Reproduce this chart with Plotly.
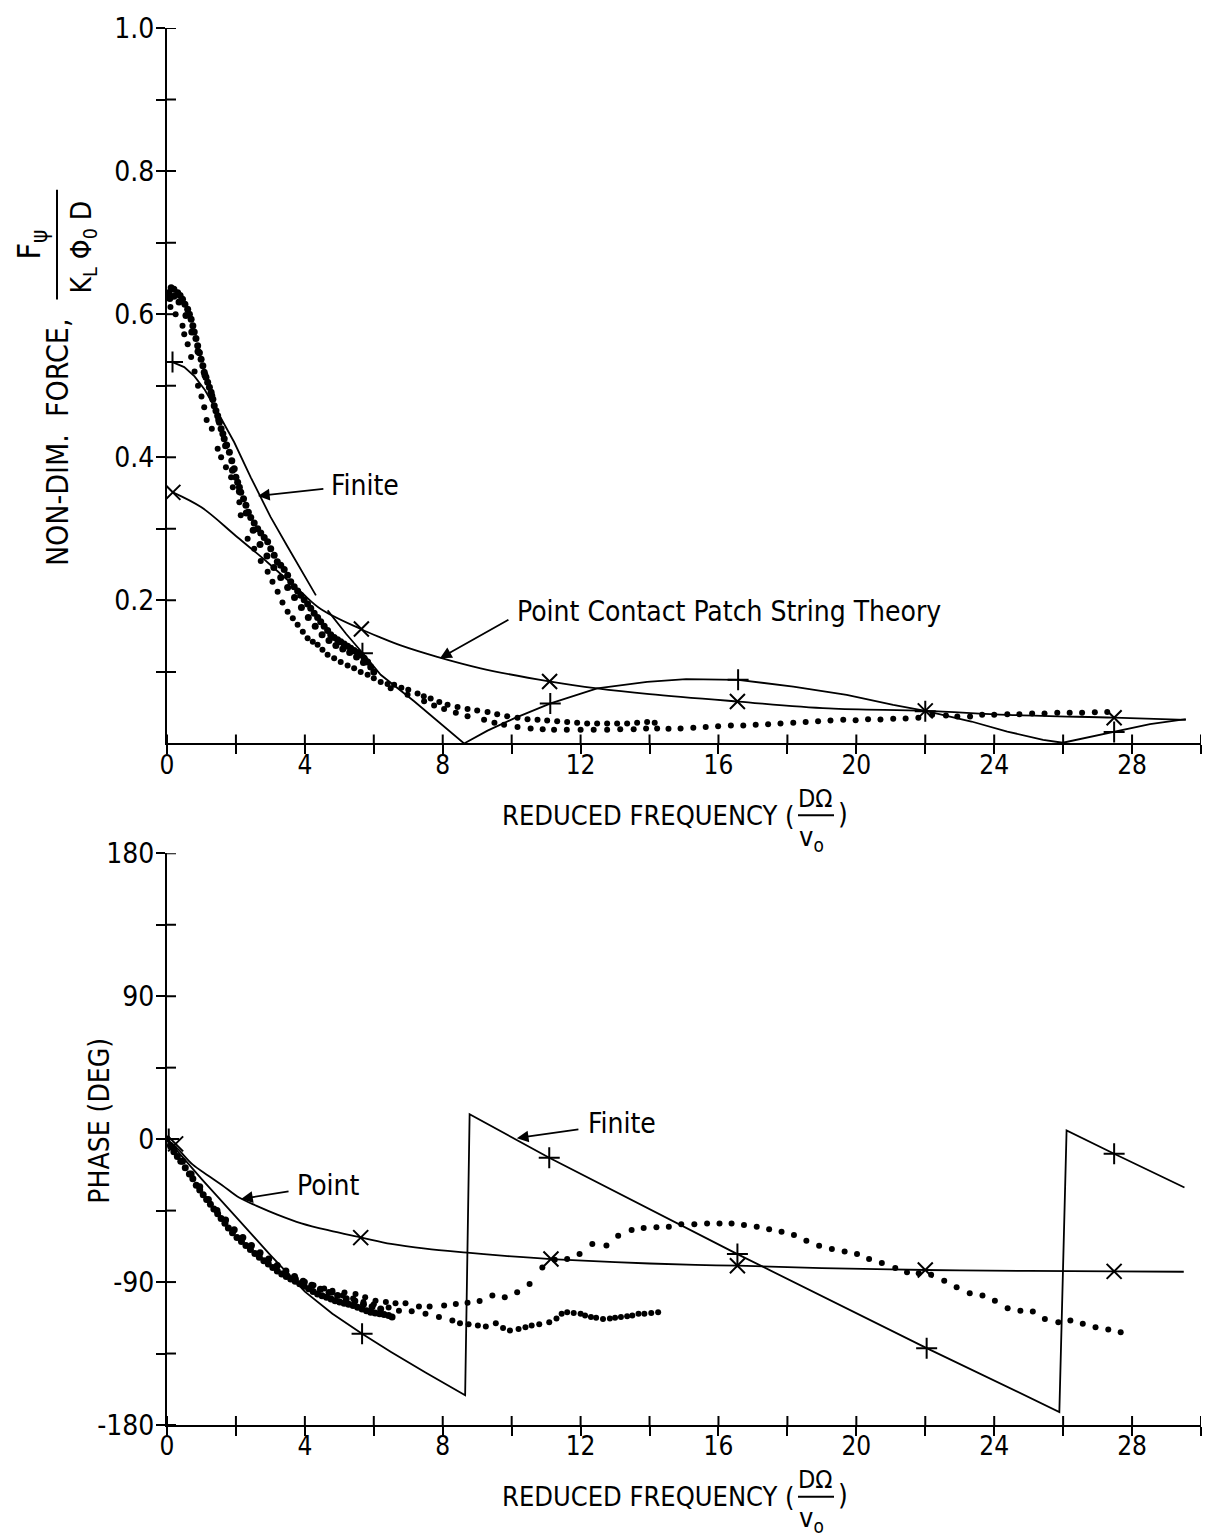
import plotly.graph_objects as go

# ---------------- DATA ----------------
# Top: non-dimensional force magnitude
fin_mag_x = [0.16, 0.5, 0.8, 1.1, 1.47, 1.95, 2.43, 3.0, 3.5, 4.0, 4.32, None, 4.66, 5.2, 5.72, 6.2, 7.17, 8.0, 8.62,
             9.3, 10.07, 11.13, 12.48, 13.93, 15.06, 16.57, 18.17, 19.72, 21.07, 22.0, 23.34, 24.38,
             25.42, 25.99, 27.48, 28.52, 29.56]
fin_mag_y = [0.533, 0.526, 0.513, 0.494, 0.463, 0.421, 0.372, 0.317, 0.275, 0.233, 0.207, None, 0.186, 0.153, 0.124,
             0.096, 0.059, 0.026, 0.0,
             0.018, 0.035, 0.056, 0.077, 0.086, 0.090, 0.089, 0.0795, 0.068, 0.054, 0.0456, 0.0307, 0.0167,
             0.005, 0.001, 0.016, 0.027, 0.034]
pt_mag_x = [0.17, 1.0, 2.0, 2.92, 3.88, 4.46, 5.62, 6.2, 6.78, 7.84, 9.1, 11.13, 12.48, 14.0, 16.57,
            19.2, 22.0, 24.4, 27.48, 29.56]
pt_mag_y = [0.351, 0.33, 0.29, 0.253, 0.212, 0.188, 0.16, 0.148, 0.137, 0.121, 0.105, 0.0865, 0.077, 0.069,
            0.0586, 0.049, 0.0456, 0.040, 0.036, 0.033]
fin_mag_mk_x = [0.16, 5.67, 11.12, 16.57, 22.0, 27.48]
fin_mag_mk_y = [0.533, 0.126, 0.056, 0.089, 0.045, 0.016]
pt_mag_mk_x = [0.17, 5.64, 11.1, 16.55, 22.0, 27.48]
pt_mag_mk_y = [0.351, 0.160, 0.0865, 0.0586, 0.0456, 0.036]

expA_mag_x = [0.05, 0.12, 0.2, 0.31, 0.38, 0.45, 0.52, 0.6, 0.65, 0.7, 0.75, 0.79, 0.84, 0.89, 0.94, 0.99,
              1.04, 1.08, 1.13, 1.18, 1.23, 1.28, 1.33, 1.37, 1.42, 1.47, 1.52, 1.57, 1.62, 1.66, 1.73,
              1.81, 1.88, 1.95, 2.0, 2.05, 2.1, 2.14, 2.22, 2.29, 2.36, 2.43, 2.53, 2.63, 2.72, 2.82, 2.92,
              3.01, 3.11, 3.2, 3.3, 3.4, 3.5, 3.59, 3.69, 3.79, 3.88, 3.98, 4.08, 4.17, 4.27, 4.37, 4.46,
              4.56, 4.66, 4.75, 4.85, 4.95, 5.04, 5.14, 5.24, 5.33, 5.43, 5.53, 5.62, 5.72, 5.82, 5.91, 6.0]
expA_mag_y = [0.630, 0.637, 0.635, 0.630, 0.626, 0.621, 0.614, 0.607, 0.600, 0.593, 0.584, 0.575, 0.566,
              0.556, 0.546, 0.537, 0.528, 0.519, 0.512, 0.505, 0.498, 0.491, 0.481, 0.472, 0.465, 0.458,
              0.449, 0.440, 0.433, 0.426, 0.417, 0.407, 0.395, 0.384, 0.372, 0.365, 0.358, 0.351, 0.342,
              0.333, 0.323, 0.316, 0.308, 0.300, 0.294, 0.288, 0.282, 0.272, 0.263, 0.254, 0.249, 0.243,
              0.235, 0.226, 0.219, 0.213, 0.207, 0.201, 0.195, 0.189, 0.182, 0.176, 0.170, 0.164, 0.158,
              0.152, 0.148, 0.145, 0.142, 0.139, 0.136, 0.133, 0.130, 0.127, 0.124, 0.119, 0.114, 0.107, 0.100]
expD_mag_x = [0.08, 0.2, 0.35, 0.55, 0.72, 0.9, 1.1, 1.3, 1.5, 1.7, 1.9, 2.1, 2.3, 2.5, 2.7, 2.9, 3.1,
              3.3, 3.5, 3.7, 3.9, 4.1, 4.3, 4.5, 4.7, 4.9, 5.1, 5.3, 5.5, 5.7]
expD_mag_y = [0.622, 0.625, 0.617, 0.598, 0.575, 0.548, 0.515, 0.486, 0.452, 0.416, 0.382, 0.352, 0.322,
              0.298, 0.278, 0.262, 0.246, 0.232, 0.218, 0.204, 0.19, 0.176, 0.164, 0.152, 0.144, 0.137,
              0.132, 0.127, 0.121, 0.113]
expB_mag_x = [0.1, 0.25, 0.45, 0.5, 0.6, 0.7, 0.8, 0.9, 1.0, 1.08, 1.15, 1.3, 1.47, 1.57, 1.71, 1.86, 1.91,
              2.1, 2.14, 2.34, 2.53, 2.72, 2.92, 3.06, 3.21, 3.35, 3.5, 3.65, 3.79, 3.94, 4.08, 4.23, 4.37,
              4.51, 4.66, 4.85, 5.04, 5.24, 5.43, 5.62, 5.82, 6.0, 6.2, 6.4, 6.59, 6.8, 7.0, 7.27, 7.45,
              7.65, 7.9, 8.14, 8.43, 8.72, 9.0, 9.3, 9.58, 9.87, 10.17, 10.46, 10.75, 11.03, 11.32, 11.61,
              11.9, 12.19, 12.48, 12.77, 13.06, 13.35, 13.64, 13.93, 14.15]
expB_mag_y = [0.61, 0.60, 0.584, 0.572, 0.558, 0.54, 0.52, 0.50, 0.485, 0.47, 0.452, 0.44, 0.412, 0.40,
              0.386, 0.372, 0.358, 0.337, 0.319, 0.286, 0.272, 0.255, 0.24, 0.226, 0.212, 0.197, 0.184,
              0.175, 0.166, 0.156, 0.147, 0.142, 0.138, 0.131, 0.124, 0.119, 0.114, 0.109, 0.105, 0.100,
              0.096, 0.091, 0.086, 0.083, 0.082, 0.078, 0.075, 0.070, 0.066, 0.063, 0.058, 0.054, 0.051,
              0.048, 0.046, 0.044, 0.041, 0.038, 0.036, 0.034, 0.033, 0.032, 0.031, 0.030, 0.029, 0.028,
              0.028, 0.028, 0.028, 0.028, 0.029, 0.030, 0.029]
expC_mag_x = [6.49, 6.98, 7.46, 7.75, 8.04, 8.38, 8.72, 9.2, 9.5, 9.78, 10.17, 10.55, 10.9, 11.23, 11.6,
              12.0, 12.38, 12.77, 13.15, 13.54, 13.9, 14.22, 14.55, 14.9, 15.27, 15.63, 15.99, 16.36,
              16.72, 17.08, 17.44, 17.8, 18.17, 18.53, 18.89, 19.25, 19.62, 19.98, 20.34, 20.7, 21.07,
              21.43, 21.8, 22.2, 22.6, 22.93, 23.3, 23.65, 24.0, 24.38, 24.73, 25.1, 25.46, 25.83, 26.19,
              26.55, 26.92, 27.28]
expC_mag_y = [0.077, 0.068, 0.059, 0.053, 0.048, 0.043, 0.038, 0.033, 0.029, 0.026, 0.023, 0.021, 0.020,
              0.019, 0.019, 0.019, 0.019, 0.019, 0.020, 0.020, 0.021, 0.021, 0.0205, 0.021, 0.022, 0.023,
              0.024, 0.025, 0.025, 0.026, 0.027, 0.028, 0.029, 0.030, 0.031, 0.032, 0.033, 0.0325, 0.034,
              0.0335, 0.0345, 0.035, 0.036, 0.040, 0.039, 0.0377, 0.0377, 0.040, 0.040, 0.041, 0.041,
              0.042, 0.042, 0.043, 0.043, 0.043, 0.0437, 0.044]

# Bottom: phase (deg)
fin_ph_x = [0.0, 1.0, 2.0, 3.0, 4.0, 4.8, 5.66, 6.5, 7.5, 8.65, 8.78, 11.09, 16.55, 22.04, 25.89, 26.1,
            27.48, 29.52]
fin_ph_y = [0, -25, -49, -73, -96, -110, -122.6, -134, -147, -161.3, 15.7, -11.7, -72.4, -131.6, -171.8,
            5.4, -9.2, -30.5]
pt_ph_x = [0.0, 0.35, 0.74, 1.2, 1.6, 2.09, 2.6, 3.2, 3.9, 4.7, 5.65, 6.5, 7.5, 8.71, 9.8, 11.14, 13.0,
           15.33, 16.55, 19.0, 22.0, 25.0, 27.48, 29.5]
pt_ph_y = [0, -7, -15.9, -23, -29, -36.8, -42, -47.5, -53, -57.5, -62, -66, -69, -71.5, -73.5, -75.5,
           -77.5, -79.2, -79.7, -81.2, -82.4, -83, -83.3, -83.5]
fin_ph_mk_x = [0.05, 5.66, 11.09, 16.55, 22.04, 27.48]
fin_ph_mk_y = [0.0, -122.6, -11.7, -72.4, -131.6, -9.2]
pt_ph_mk_x = [0.25, 5.62, 11.14, 16.55, 22.0, 27.48]
pt_ph_mk_y = [-3.0, -62.0, -75.5, -79.7, -82.4, -83.3]

expA_ph_x = [0.0, 0.1, 0.2, 0.3, 0.4, 0.53, 0.65, 0.75, 0.85, 0.95, 1.05, 1.15, 1.26, 1.36, 1.47, 1.57,
             1.68, 1.78, 1.9, 2.03, 2.16, 2.29, 2.42, 2.55, 2.68, 2.81, 2.94, 3.07, 3.2, 3.33, 3.46, 3.59,
             3.72, 3.85, 3.98, 4.11, 4.24, 4.37, 4.5, 4.63, 4.76, 4.88, 5.01, 5.14, 5.27, 5.4, 5.53, 5.66,
             5.79, 5.91, 6.04, 6.17, 6.3, 6.43, 6.53]
expA_ph_y = [0, -4, -8, -11, -14, -18, -22, -25, -29, -32, -35, -38, -41, -44, -47, -50, -53, -56, -59,
             -62, -64.5, -67, -69.5, -72, -74.4, -76.6, -78.7, -80.8, -83, -85, -86.5, -88, -89.5, -91,
             -92.6, -94.2, -95.9, -97.5, -98.6, -99.6, -100.7, -101.7, -102.5, -103.3, -104, -104.8,
             -105.8, -106.9, -108, -109, -109.5, -110, -110.5, -111, -112]
expD_ph_x = [0.2, 0.45, 0.7, 0.95, 1.2, 1.45, 1.7, 1.95, 2.2, 2.45, 2.7, 2.95, 3.2, 3.45, 3.7, 3.95, 4.2,
             4.45, 4.7, 4.95, 5.2, 5.45, 5.7, 5.95, 6.2]
expD_ph_y = [-6, -14, -22, -30, -38, -45, -51, -57, -62, -67, -71.5, -75.5, -79.5, -83, -86.5, -89.5, -92,
             -94.5, -96.5, -98.5, -100.5, -102, -104, -105.5, -107]
expB_ph_x = [3.5, 3.74, 4.0, 4.25, 4.56, 4.8, 5.1, 5.4, 5.7, 6.0, 6.43, 6.73, 7.1, 7.5, 7.89, 8.28, 8.5,
             8.75, 9.02, 9.25, 9.54, 9.75, 9.95, 10.2, 10.4, 10.58, 10.8, 11.09, 11.3, 11.45, 11.61, 11.8,
             12.0, 12.13, 12.3, 12.45, 12.65, 12.85, 13.0, 13.17, 13.35, 13.5, 13.68, 13.85, 14.05, 14.25]
expB_ph_y = [-86, -88, -90, -92, -94, -96.5, -98.5, -100.4, -102.5, -104, -106, -108, -108.4, -110, -112,
             -114.2, -116, -116.5, -117.4, -118, -116, -119, -120.5, -119.5, -118.5, -117.4, -116.5,
             -115.3, -113, -110, -109, -109.5, -110, -111, -112, -112.5, -113.2, -113, -112.5, -112,
             -111.5, -111, -110, -110, -109.5, -109]
expC_ph_x = [4.8, 5.15, 5.47, 5.75, 6.05, 6.35, 6.63, 6.92, 7.31, 7.62, 8.04, 8.38, 8.72, 9.07, 9.44, 9.8,
             10.16, 10.52, 10.89, 11.25, 11.61, 11.97, 12.34, 12.75, 13.09, 13.48, 13.83, 14.2, 14.56,
             14.92, 15.3, 15.67, 16.03, 16.38, 16.74, 17.11, 17.47, 17.83, 18.19, 18.55, 18.92, 19.29,
             19.66, 20.02, 20.37, 20.74, 21.13, 21.47, 21.81, 22.17, 22.55, 22.91, 23.29, 23.66, 24.02,
             24.39, 24.76, 25.12, 25.47, 25.86, 26.21, 26.57, 26.94, 27.31, 27.67]
expC_ph_y = [-95.4, -96.5, -97.5, -99.5, -101.7, -102.5, -103.4, -103.4, -105.4, -105.4, -104.8, -103.8,
             -103, -102, -98.5, -99.5, -96.4, -91.2, -80.8, -76, -75.5, -72.4, -66.1, -67, -60.9, -57.3,
             -56, -55.5, -55.2, -53.6, -53.6, -53.1, -53.1, -53.1, -54, -55.2, -56.7, -58.4, -60.3, -64,
             -67.2, -69.2, -70.7, -72.4, -75.5, -78, -81.2, -83.9, -84.5, -85.4, -89.1, -93.3, -97.1,
             -98.5, -101.7, -106.5, -108, -108.6, -113.2, -115.3, -114.2, -116.3, -118.4, -119.9, -121.6]

x_major = [0, 4, 8, 12, 16, 20, 24, 28]
x_major_text = ["0", "4", "8", "12", "16", "20", "24", "28"]
x_minor = [2, 6, 10, 14, 18, 22, 26, 30]
mag_major = [0.2, 0.4, 0.6, 0.8, 1.0]
mag_major_text = ["0.2", "0.4", "0.6", "0.8", "1.0"]
mag_minor = [0.1, 0.3, 0.5, 0.7, 0.9]
ph_major = [-180, -90, 0, 90, 180]
ph_major_text = ["-180", "-90", "0", "90", "180"]
ph_minor = [-135, -45, 45, 135]

# ---------------- LAYOUT CONSTANTS ----------------
W, H = 1213, 1540
L, R, T, B = 167, 12, 25, 115
PW, PH = W - L - R, H - T - B
FONT = "Liberation Sans Narrow, Arial Narrow, DejaVu Sans Condensed, sans-serif"
TOP_DOM = [(H - B - 742) / PH, 1.0]
BOT_DOM = [0.0, (H - B - 852) / PH]
TICK = 9


def pxx(xp):
    return (xp - L) / PW


def pxy(yp):
    return (H - B - yp) / PH


fig = go.Figure()

line_style = dict(color="black", width=1.8)


def add_line(x, y, xa, ya, shape="linear"):
    fig.add_trace(go.Scatter(x=x, y=y, mode="lines", line=dict(line_style, shape=shape), xaxis=xa, yaxis=ya,
                             showlegend=False, hoverinfo="skip", connectgaps=False))


def add_marks(x, y, xa, ya, sym):
    fig.add_trace(go.Scatter(x=x, y=y, mode="markers", xaxis=xa, yaxis=ya, showlegend=False,
                             hoverinfo="skip",
                             marker=dict(symbol=sym, size=15, color="black",
                                         line=dict(color="black", width=2))))


def add_dots(x, y, xa, ya, size):
    fig.add_trace(go.Scatter(x=x, y=y, mode="markers", xaxis=xa, yaxis=ya, showlegend=False,
                             hoverinfo="skip", marker=dict(size=size, color="black")))


# top
add_dots(expA_mag_x, expA_mag_y, "x", "y", 7)
add_dots(expD_mag_x, expD_mag_y, "x", "y", 7)
add_dots(expB_mag_x, expB_mag_y, "x", "y", 6)
add_dots(expC_mag_x, expC_mag_y, "x", "y", 6)
add_line(fin_mag_x, fin_mag_y, "x", "y")
add_line(pt_mag_x, pt_mag_y, "x", "y", "spline")
add_marks(fin_mag_mk_x, fin_mag_mk_y, "x", "y", "cross-thin")
add_marks(pt_mag_mk_x, pt_mag_mk_y, "x", "y", "x-thin")
# bottom
add_dots(expA_ph_x, expA_ph_y, "x2", "y2", 7)
add_dots(expD_ph_x, expD_ph_y, "x2", "y2", 7)
add_dots(expB_ph_x, expB_ph_y, "x2", "y2", 6)
add_dots(expC_ph_x, expC_ph_y, "x2", "y2", 6)
add_line(fin_ph_x, fin_ph_y, "x2", "y2")
add_line(pt_ph_x, pt_ph_y, "x2", "y2", "spline")
add_marks(fin_ph_mk_x, fin_ph_mk_y, "x2", "y2", "cross-thin")
add_marks(pt_ph_mk_x, pt_ph_mk_y, "x2", "y2", "x-thin")

tick_common = dict(ticklen=TICK, tickwidth=2, tickcolor="black", showgrid=False, zeroline=False,
                   showline=True, linewidth=2, linecolor="black", ticks="outside")


def xaxis_def(anchor):
    return dict(domain=[0, 1], anchor=anchor, range=[0, 30], tickmode="array", tickvals=x_major,
                ticktext=x_major_text, ticklabelstandoff=-12,
                tickfont=dict(family=FONT, size=26, color="black"),
                minor=dict(tickmode="array", tickvals=x_minor, ticks="outside", ticklen=TICK, tickwidth=2,
                           tickcolor="black", showgrid=False),
                **tick_common)


def yaxis_def(anchor, dom, rng, vals, text, minor_vals):
    return dict(anchor=anchor, domain=dom, range=rng, tickmode="array", tickvals=vals, ticktext=text,
                ticklabelstandoff=-4,
                tickfont=dict(family=FONT, size=28, color="black"),
                minor=dict(tickmode="array", tickvals=minor_vals, ticks="outside", ticklen=TICK, tickwidth=2,
                           tickcolor="black", showgrid=False),
                **tick_common)


fig.update_layout(
    width=W, height=H,
    margin=dict(l=L, r=R, t=T, b=B),
    paper_bgcolor="white", plot_bgcolor="rgba(0,0,0,0)",
    showlegend=False,
    font=dict(family=FONT, color="black"),
    xaxis=xaxis_def("y"),
    yaxis=yaxis_def("x", TOP_DOM, [0, 1], mag_major, mag_major_text, mag_minor),
    xaxis2=xaxis_def("y2"),
    yaxis2=yaxis_def("x2", BOT_DOM, [-180, 180], ph_major, ph_major_text, ph_minor),
)

ann = []
shapes = []

# inside halves of the crossing ticks, placed by the axes' own scales
for xr, yr, y_base in [("x", "y", 0), ("x2", "y2", -180)]:
    for t in x_major + x_minor:
        shapes.append(dict(type="line", xref=xr, yref=yr, x0=t, x1=t, ysizemode="pixel", yanchor=y_base,
                           y0=-TICK, y1=TICK, line=dict(color="black", width=2)))
for xr, yr, vals in [("x", "y", mag_major + mag_minor), ("x2", "y2", ph_major + ph_minor)]:
    for t in vals:
        shapes.append(dict(type="line", xref=xr, yref=yr, y0=t, y1=t, xsizemode="pixel", xanchor=0,
                           x0=-TICK, x1=TICK, line=dict(color="black", width=2)))


def ptext(x, y, text, size, angle=0, xanchor="center"):
    ann.append(dict(xref="paper", yref="paper", x=pxx(x), y=pxy(y), text=text, showarrow=False,
                    textangle=angle, xanchor=xanchor, yanchor="middle",
                    font=dict(family=FONT, size=size, color="black")))


def pline(x0, y0, x1, y1):
    shapes.append(dict(type="line", xref="paper", yref="paper", x0=pxx(x0), y0=pxy(y0), x1=pxx(x1),
                       y1=pxy(y1), line=dict(color="black", width=2)))


# x-axis titles (top and bottom)
for dy in (-683, 0):
    ptext(797, 1497 + dy, "REDUCED FREQUENCY (", 27, xanchor="right")
    ptext(815, 1480 + dy, "DΩ", 25)
    pline(798, 1497 + dy, 834, 1497 + dy)
    ptext(811, 1520 + dy, "v<sub>o</sub>", 27)
    ptext(843, 1496 + dy, ")", 28)

# y-axis titles
ptext(57, 440, "NON-DIM.  FORCE,", 30, angle=-90)
ptext(31, 242, "F<sub>ψ</sub>", 32, angle=-90)
pline(57, 187, 57, 297)
ptext(84, 245, "K<sub>L</sub> Φ<sub>0</sub> D", 28, angle=-90)
ptext(100, 1120, "PHASE (DEG)", 28, angle=-90)


def arrow(xr, yr, hx, hy, tx, ty):
    ann.append(dict(xref=xr, yref=yr, axref=xr, ayref=yr, x=hx, y=hy, ax=tx, ay=ty, text="",
                    showarrow=True, arrowhead=2, arrowsize=1.3, arrowwidth=1.8,
                    arrowcolor="black", standoff=0, startstandoff=0))


def dtext(xr, yr, x, y, text):
    ann.append(dict(xref=xr, yref=yr, x=x, y=y, text=text, showarrow=False, xanchor="left",
                    yanchor="middle", font=dict(family=FONT, size=28, color="black")))


arrow("x", "y", 2.64, 0.346, 4.58, 0.356)
dtext("x", "y", 4.7, 0.36, "Finite")
arrow("x", "y", 7.92, 0.119, 9.95, 0.174)
dtext("x", "y", 10.1, 0.184, "Point Contact Patch String Theory")
arrow("x2", "y2", 10.15, 0.6, 11.98, 6.3)
dtext("x2", "y2", 12.15, 10, "Finite")
arrow("x2", "y2", 2.15, -37.7, 3.57, -32.7)
dtext("x2", "y2", 3.7, -29.5, "Point")

fig.update_layout(annotations=ann, shapes=shapes)

fig.write_html("out.html")
